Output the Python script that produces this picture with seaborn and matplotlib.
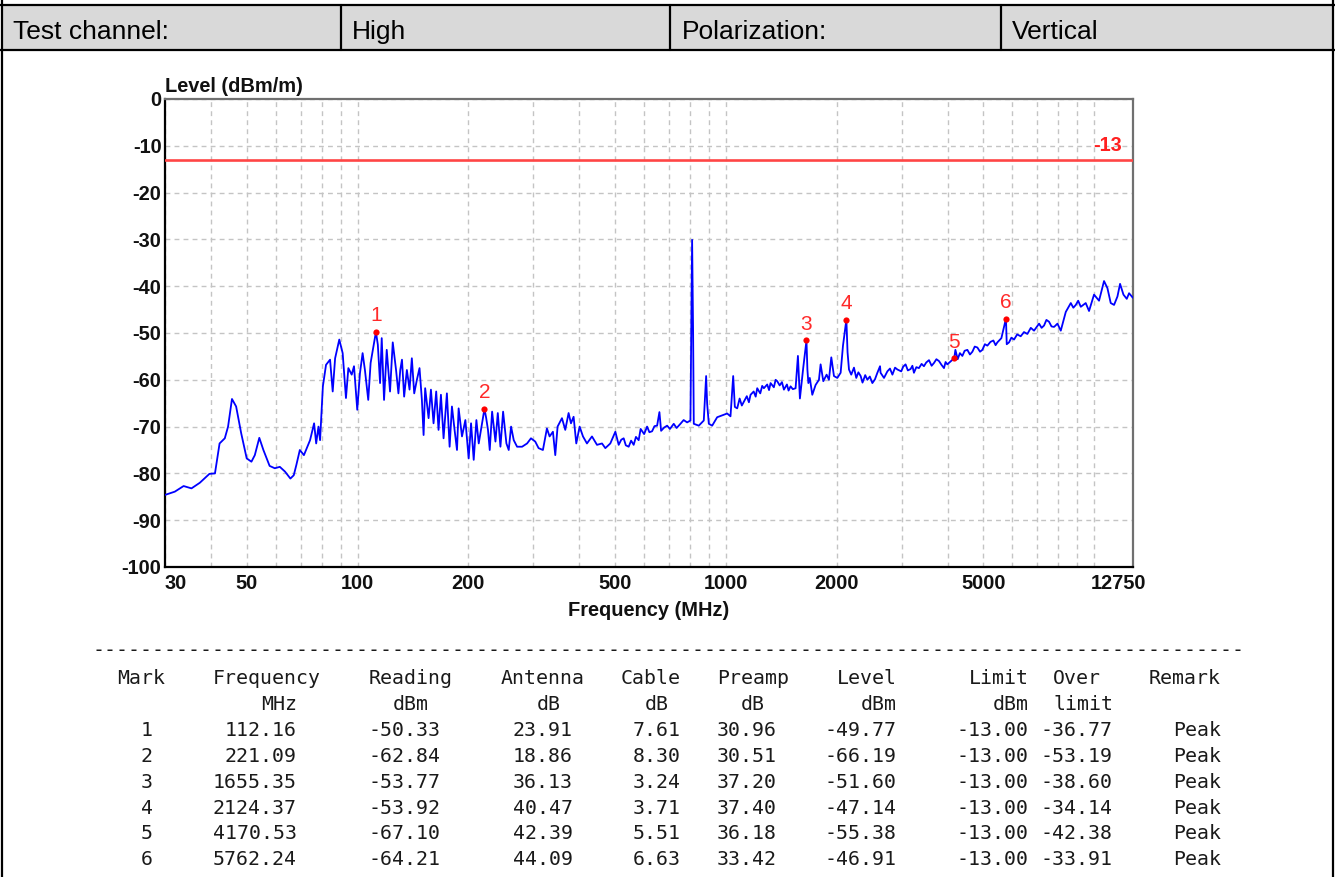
import matplotlib
matplotlib.use("Agg")
import matplotlib.pyplot as plt
import seaborn as sns
from matplotlib.lines import Line2D
from matplotlib.patches import Rectangle
from matplotlib.ticker import NullFormatter
from matplotlib.transforms import ScaledTranslation, blended_transform_factory

# ---------------- data ----------------
header_cells = ["Test channel:", "High", "Polarization:", "Vertical"]

freq_mhz = [
    30.0, 31.9, 33.7, 35.4, 37.3, 39.6, 41.0, 42.2, 43.6, 44.5, 45.6, 46.8, 48.3, 50.0,
    51.5, 52.6, 54.1, 55.5, 57.7, 59.6, 61.5, 63.5, 65.7, 67.1, 68.2, 69.7, 71.5, 74.3,
    76.2, 77.2, 78.3, 79.1, 80.5, 82.1, 84.2, 85.6, 86.9, 89.2, 91.1, 93.0, 94.4, 96.4,
    97.8, 99.8, 101.5, 103.2, 104.7, 106.9, 108.5, 112.16, 113.5, 115.1, 116.3, 118.0,
    120.0, 122.5, 124.6, 127.2, 129.1,
    130.6, 132.0, 133.8, 136.1, 138.4, 140.4, 142.5, 144.9, 147.3, 149.5, 151.1, 152.6,
    155.9, 158.2, 160.8, 163.5, 165.9, 168.4, 171.2, 174.8, 177.8, 180.4, 183.4, 186.2,
    188.1, 192.1, 196.2, 200.3, 203.3, 206.7, 210.2, 213.3, 221.09, 223.5, 226.0, 228.5,
    231.9, 236.8, 240.3, 244.3, 248.4, 253.6, 257.3, 261.1, 265.5, 271.1, 279.7, 288.6,
    295.7, 303.7, 310.1, 318.6, 326.7, 332.2, 339.2, 344.2, 349.2, 358.9, 366.4, 374.1,
    379.7, 386.0, 392.5, 400.8, 409.3, 419.6, 433.0, 446.8, 461.0, 470.7, 485.6, 501.1,
    511.7, 520.0, 527.9, 535.0, 544.7, 553.0, 562.0, 570.0, 579.8,
    586.9, 600.0, 611.1, 620.0, 630.5, 640.0, 650.6, 660.1, 667.1, 680.0, 692.6, 705.0,
    721.9, 735.0, 752.8, 768.0, 784.9, 801.3, 809.8,
    814.9, 818.3, 844.3, 871.1, 884.0, 889.6, 899.0, 918.0, 947.1, 977.2, 1008.2, 1029.4,
    1046.9, 1057.8, 1073.5, 1090.0, 1105.0, 1119.0, 1140.0, 1155.0, 1166.9, 1190.0, 1205.0,
    1216.6, 1240.0, 1255.0, 1268.4, 1295.0, 1310.0, 1322.5, 1350.0, 1365.0, 1378.9, 1400.0,
    1420.0, 1437.6, 1465.0, 1480.0, 1498.9, 1520.0, 1546.5, 1569.2, 1588.8, 1622.4,
    1655.35, 1665.0, 1675.0, 1690.0, 1716.7,
    1752.6, 1789.6, 1808.4, 1839.0, 1877.6, 1905.0, 1933.3, 1965.8, 2007.4, 2049.5,
    2079.9, 2124.37, 2140.0, 2159.4, 2190.0, 2227.8, 2260.0, 2290.0, 2323.1, 2350.0,
    2390.0, 2422.2, 2460.0, 2499.2, 2540.0, 2578.7, 2622.0,
    2631.0, 2688.0, 2745.0, 2790.0, 2833.0, 2880.0, 2923.0, 2994.0, 3030.0, 3076.0,
    3120.0, 3174.0, 3210.0, 3241.0, 3290.0, 3344.0, 3400.0, 3450.0, 3500.0, 3561.0,
    3620.0, 3674.0, 3730.0, 3791.0, 3850.0, 3911.0, 3950.0, 3993.0, 4170.53, 4200.0,
    4260.0, 4320.0, 4387.0, 4450.0, 4527.0, 4600.0, 4671.0, 4740.0, 4819.0, 4900.0,
    4972.0, 5050.0, 5130.0, 5230.0, 5326.0, 5400.0, 5461.0, 5599.0, 5762.24, 5790.0,
    5874.0, 5960.0, 6061.0, 6180.0, 6318.0, 6450.0, 6588.0, 6730.0, 6868.0, 7087.0,
    7200.0, 7312.0, 7420.0, 7544.0, 7660.0, 7784.0, 7950.0, 8117.0,
    8375.0, 8642.0, 8780.0, 8916.0, 9050.0, 9199.0, 9487.0, 9686.0, 9993.0, 10311.0,
    10638.0, 10865.0, 11093.0, 11326.0, 11568.0, 11759.0, 12011.0, 12263.0, 12440.0,
    12750.0,
]

level_dbm = [
    -84.6, -83.9, -82.7, -83.2, -82.0, -80.1, -80.0, -73.6, -72.5, -70.0, -64.1, -65.7, -71.4, -76.8,
    -77.5, -76.1, -72.4, -75.0, -78.4, -78.9, -78.6, -79.6, -81.1, -80.4, -78.2, -75.0, -76.1, -72.9,
    -69.3, -73.6, -70.0, -72.9, -61.4, -56.8, -55.7, -62.5, -55.4, -51.4, -54.3, -63.9, -57.5, -58.9,
    -57.1, -66.4, -58.6, -54.3, -57.9, -64.3, -56.4, -49.77, -52.5, -60.7, -51.1, -64.3,
    -53.6, -62.5, -52.0, -57.9, -62.9,
    -57.9, -55.7, -63.6, -57.9, -62.1, -55.4, -62.9, -60.0, -57.5, -64.3, -71.8, -61.8,
    -68.2, -62.1, -69.3, -62.5, -70.7, -63.2, -72.5, -62.9, -74.3, -65.7, -70.7, -75.0,
    -66.1, -72.1, -68.6, -76.8, -69.3, -77.1, -68.6, -73.6, -66.19, -68.2, -70.7, -75.0,
    -66.8, -73.2, -67.1, -74.3, -66.8, -73.6, -75.0, -70.0, -72.9, -74.3, -74.3, -73.6,
    -72.5, -73.2, -74.6, -75.0, -70.4, -72.1, -71.1, -76.1, -70.0, -68.2, -70.7, -67.1,
    -69.3, -67.9, -73.6, -70.0, -72.1, -73.6, -72.1, -73.9, -73.6, -74.6, -73.6, -71.1,
    -73.9, -72.8, -72.5, -74.0, -74.3, -73.0, -73.9, -72.2, -72.9,
    -70.5, -71.6, -70.0, -71.2, -71.0, -69.9, -69.8, -66.9, -70.9, -70.2, -69.8, -70.5,
    -69.4, -70.3, -69.4, -68.6, -69.1, -68.7, -30.1,
    -50.1, -69.4, -69.8, -68.7, -59.2, -65.1, -69.4, -69.8, -68.0, -67.6, -67.2, -67.8,
    -59.2, -65.8, -66.1, -64.0, -65.5, -64.7, -63.5, -64.8, -63.2, -62.5, -63.6,
    -61.8, -62.9, -61.3, -61.8, -61.0, -62.2, -60.7, -61.6, -60.0, -60.3, -61.2,
    -60.5, -62.1, -61.0, -62.3, -61.4, -62.0, -61.8, -54.9, -64.0, -57.4,
    -51.60, -57.8, -60.7, -59.6, -63.2,
    -61.1, -60.0, -56.7, -60.3, -58.9, -60.0, -55.2, -59.2, -59.6, -58.5,
    -52.7, -47.14, -54.1, -57.8, -58.9, -57.4, -59.6, -58.4, -59.2, -60.6,
    -59.0, -60.0, -59.3, -60.7, -59.9, -58.5, -57.1,
    -58.5, -59.6, -58.2, -57.6, -58.9, -57.4, -57.8, -58.2, -57.2, -56.7,
    -58.0, -57.7, -57.0, -58.5, -57.3, -57.5, -56.6, -57.1, -56.3, -55.8,
    -57.0, -56.4, -55.6, -56.0, -56.8, -57.5, -56.2, -56.7, -55.38, -53.6,
    -55.6, -54.3, -54.9, -53.8, -53.6, -54.6, -54.0, -52.9, -53.1, -54.0,
    -53.6, -52.4, -52.7, -51.9, -51.6, -52.6, -52.0, -51.1, -46.91, -52.4,
    -52.0, -51.0, -51.4, -50.3, -50.7, -49.8, -50.2, -48.9, -49.5, -48.0,
    -48.9, -48.4, -47.2, -47.6, -48.6, -48.7, -48.0, -49.5,
    -45.5, -43.6, -44.6, -44.0, -43.1, -44.4, -43.6, -45.3, -41.8, -43.1,
    -38.9, -40.4, -43.6, -44.0, -42.2, -39.5, -41.8, -42.7, -41.5,
    -42.5,
]

limit_level = -13.0

x_ticks = [30, 50, 100, 200, 500, 1000, 2000, 5000, 12750]
x_ticklabels = ["30", "50", "100", "200", "500", "1000", "2000", "5000", "12750"]
x_minor = [40, 60, 70, 80, 90, 300, 400, 600, 700, 800, 900,
           3000, 4000, 6000, 7000, 8000, 9000, 10000]
y_ticks = [0, -10, -20, -30, -40, -50, -60, -70, -80, -90, -100]

mark_ids = [1, 2, 3, 4, 5, 6]
mark_freq = [112.16, 221.09, 1655.35, 2124.37, 4170.53, 5762.24]
mark_reading = [-50.33, -62.84, -53.77, -53.92, -67.10, -64.21]
mark_antenna = [23.91, 18.86, 36.13, 40.47, 42.39, 44.09]
mark_cable = [7.61, 8.30, 3.24, 3.71, 5.51, 6.63]
mark_preamp = [30.96, 30.51, 37.20, 37.40, 36.18, 33.42]
mark_level = [-49.77, -66.19, -51.60, -47.14, -55.38, -46.91]
mark_limit = [-13.00, -13.00, -13.00, -13.00, -13.00, -13.00]
mark_over = [-36.77, -53.19, -38.60, -34.14, -42.38, -33.91]
mark_remark = ["Peak", "Peak", "Peak", "Peak", "Peak", "Peak"]

table_head1 = ["Mark", "Frequency", "Reading", "Antenna", "Cable", "Preamp", "Level", "Limit", "Over", "Remark"]
table_head2 = ["", "MHz", "dBm", "dB", "dB", "dB", "dBm", "dBm", "limit", ""]

# ---------------- style ----------------
sns.set_style("white")
plt.rcParams["font.family"] = ["Liberation Sans", "DejaVu Sans"]
plt.rcParams["axes.unicode_minus"] = False

W, H = 1335, 877
fig = plt.figure(figsize=(W / 100, H / 100), dpi=100)
fig.patch.set_facecolor("white")


def fx(x):
    return x / W


def fy(y):
    return 1 - y / H


# ---------------- header row ----------------
fig.add_artist(Rectangle((fx(1), fy(50)), fx(1333) - fx(1), fy(5) - fy(50),
                         transform=fig.transFigure, facecolor="#d9d9d9", edgecolor="none", zorder=0))
for (xa, ya, xb, yb) in [(0, 5, 1335, 5), (0, 50, 1335, 50), (1.5, 0, 1.5, 877), (1333, 0, 1333, 877),
                         (341, 5, 341, 50), (670, 5, 670, 50), (1001, 5, 1001, 50)]:
    fig.add_artist(Line2D([fx(xa), fx(xb)], [fy(ya), fy(yb)], transform=fig.transFigure,
                          color="black", lw=1.6))
cell_x = [13, 352, 682, 1012]
for txt, cx in zip(header_cells, cell_x):
    fig.text(fx(cx), fy(39), txt, fontsize=19, ha="left", va="baseline", color="black")

# ---------------- chart ----------------
ax = fig.add_axes([fx(165), fy(567), fx(1133) - fx(165), fy(99) - fy(567)])
ax.set_xscale("log")
sns.lineplot(x=freq_mhz, y=level_dbm, ax=ax, color="#0000ff", linewidth=1.3,
             estimator=None, sort=False, zorder=3)
ax.axhline(limit_level, color="#ff4545", lw=1.9, zorder=4)
ax.annotate("-13", xy=(1, limit_level), xycoords=blended_transform_factory(ax.transAxes, ax.transData),
            xytext=(-8, 6.5), textcoords="offset points", ha="right", va="baseline",
            color="#ff2020", fontsize=14.4, fontweight="bold", zorder=5)

ax.scatter(mark_freq, mark_level, s=20, color="#ff0000", zorder=5, linewidths=0)
for mid, f, lv in zip(mark_ids, mark_freq, mark_level):
    ax.annotate(str(mid), xy=(f, lv), xytext=(0, 11.5), textcoords="offset points",
                ha="center", va="center", color="#ff2a2a", fontsize=15, zorder=6)

ax.set_xlim(30, 12750)
ax.set_ylim(-100, 0)
ax.set_xticks(x_ticks)
ax.set_xticklabels(x_ticklabels)
ax.set_xticks(x_minor, minor=True)
ax.xaxis.set_minor_formatter(NullFormatter())
ax.set_yticks(y_ticks)
ax.set_yticklabels([str(v) for v in y_ticks])
ax.tick_params(axis="both", which="both", length=0)
ax.tick_params(axis="x", pad=5)
ax.tick_params(axis="y", pad=2.5)
for lab in ax.get_xticklabels() + ax.get_yticklabels():
    lab.set_fontsize(14.4)
    lab.set_fontweight("bold")
    lab.set_color("#111111")
xl = ax.get_xticklabels()
xl[0].set_ha("left")
xl[-1].set_transform(xl[-1].get_transform() + ScaledTranslation(-0.15, 0, fig.dpi_scale_trans))

ax.grid(True, which="both", axis="x", color="#c4c4c4", linestyle=(0, (3.5, 3)), lw=1.0)
ax.grid(True, which="major", axis="y", color="#c4c4c4", linestyle=(0, (3.5, 3)), lw=1.0)
ax.set_axisbelow(True)

for side in ["left", "bottom"]:
    ax.spines[side].set_color("black")
    ax.spines[side].set_linewidth(1.6)
for side in ["top", "right"]:
    ax.spines[side].set_color("#707070")
    ax.spines[side].set_linewidth(1.6)
    ax.spines[side].set_visible(True)

ax.set_xlabel("Frequency (MHz)", fontsize=14.4, fontweight="bold", labelpad=6, color="#111111")
ax.set_ylabel("")
ax.annotate("Level (dBm/m)", xy=(0, 1), xycoords="axes fraction", xytext=(0, 5),
            textcoords="offset points", ha="left", va="baseline", fontsize=14.4,
            fontweight="bold", color="#111111")

# ---------------- result table ----------------
mono = "DejaVu Sans Mono"
tsize = 14.35
tcol = "#1a1a1a"
pitch = 12.0
x0 = 117.0


def colx(c):
    return fx(x0 + c * pitch)


fig.text(colx(-2), fy(656), "-" * 96, family=mono, fontsize=tsize, color=tcol, ha="left", va="baseline")

head1_end = [4, 17, 28, 39, 47, 56, 65, 76, 82, 92]
head2_end = [4, 15, 26, 37, 46, 54, 65, 76, 83, 92]
data_end = [3, 15, 27, 38, 47, 55, 65, 76, 83, 92]

row_y0 = 684
row_dy = 25.9
for txt, ce in zip(table_head1, head1_end):
    fig.text(colx(ce), fy(row_y0), txt, family=mono, fontsize=tsize, color=tcol, ha="right", va="baseline")
for txt, ce in zip(table_head2, head2_end):
    if txt:
        fig.text(colx(ce), fy(row_y0 + row_dy), txt, family=mono, fontsize=tsize, color=tcol,
                 ha="right", va="baseline")

for i in range(len(mark_ids)):
    vals = [str(mark_ids[i]), f"{mark_freq[i]:.2f}", f"{mark_reading[i]:.2f}",
            f"{mark_antenna[i]:.2f}", f"{mark_cable[i]:.2f}", f"{mark_preamp[i]:.2f}",
            f"{mark_level[i]:.2f}", f"{mark_limit[i]:.2f}", f"{mark_over[i]:.2f}", mark_remark[i]]
    yy = row_y0 + row_dy * (i + 2)
    for txt, ce in zip(vals, data_end):
        fig.text(colx(ce), fy(yy), txt, family=mono, fontsize=tsize, color=tcol, ha="right", va="baseline")

fig.savefig("out.png", dpi=100)
